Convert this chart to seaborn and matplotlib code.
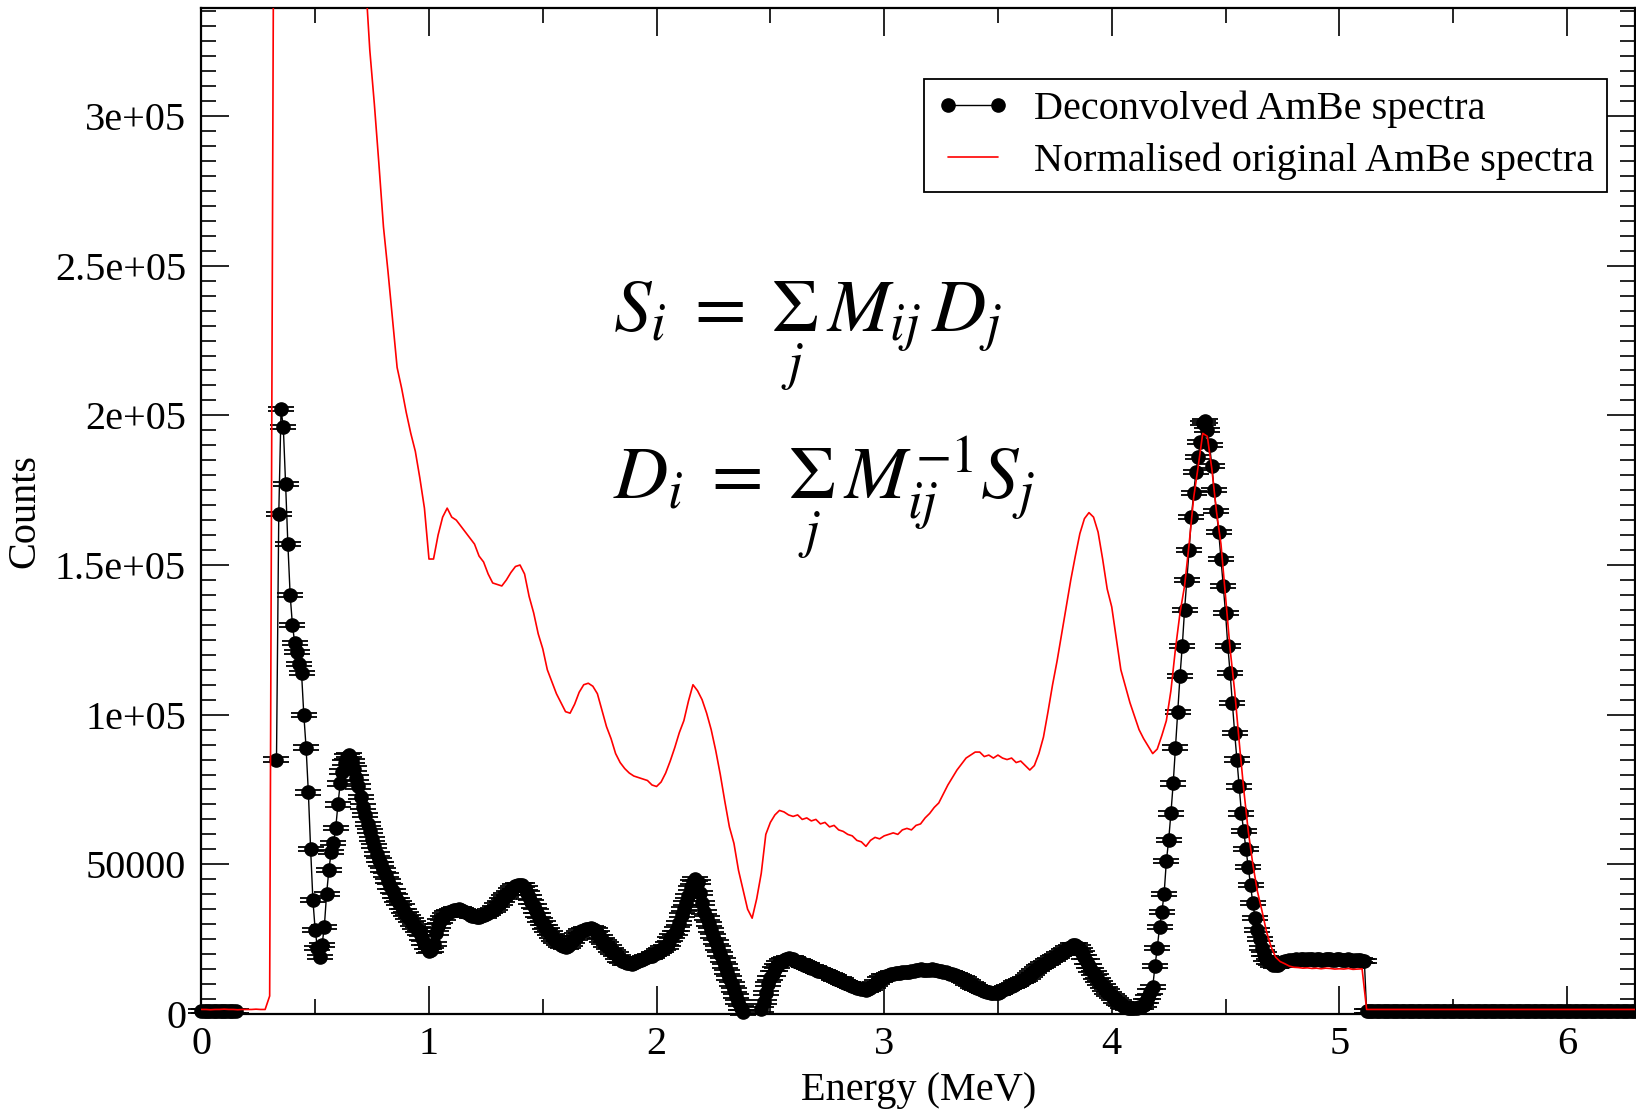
import numpy as np
import pandas as pd
import matplotlib
matplotlib.use("Agg")
import matplotlib.pyplot as plt
import seaborn as sns
from matplotlib.ticker import MultipleLocator, FixedLocator, FixedFormatter
from matplotlib.lines import Line2D

nan = np.nan

# ---------------- data ----------------
# Deconvolved AmBe spectrum, one value per 0.01 MeV bin starting at 0.00 MeV
deconvolved_counts = [
    1000, 1000, 1000, 1000, 1000, 1000, 1000, 1000, 1000, 1000,          # 0.00
    1000, 1000, 1000, 1000, 1000, 1000, nan, nan, nan, nan,              # 0.10
    nan, nan, nan, nan, nan, nan, nan, nan, nan, nan,                    # 0.20
    nan, nan, nan, 85000, 167000, 202000, 196000, 177000, 157000, 140000,  # 0.30
    130000, 124000, 121000, 117000, 114000, 100000, 89000, 74000, 55000, 38000,  # 0.40
    28000, 22000, 19000, 23000, 29000, 40000, 48000, 54000, 57000, 62000,  # 0.50
    70000, 77000, 81000, 84000, 86000, 86500, 84500, 82000, 79000, 76000,  # 0.60
    72500, 69300, 66500, 63500, 61000, 58500, 56000, 53500, 51500, 50000,  # 0.70
    48000, 46500, 44500, 42600, 41000, 39500, 38000, 37000, 35900, 34500,  # 0.80
    33500, 32500, 31300, 30200, 29200, 28200, 27000, 25500, 23600, 22300,  # 0.90
    21000, 21500, 23500, 27000, 29500, 31000, 32000, 33100, 33700, 34200,  # 1.00
    34500, 34700, 34900, 35000, 34800, 34500, 34000, 33600, 33200, 32800,  # 1.10
    32600, 32500, 32500, 32600, 32900, 33300, 33800, 34300, 34800, 35500,  # 1.20
    36300, 37200, 38200, 39000, 39800, 40500, 41300, 42000, 42600, 43000,  # 1.30
    43200, 43000, 42000, 40500, 39000, 37500, 36000, 34500, 33000, 31500,  # 1.40
    30300, 29000, 28000, 27000, 26000, 25200, 24500, 23800, 23200, 22700,  # 1.50
    22500, 22700, 23300, 24300, 25300, 26200, 27000, 27600, 28000, 28300,  # 1.60
    28500, 28600, 28500, 28000, 27000, 25800, 24800, 24000, 23200, 22300,  # 1.70
    21500, 20700, 20000, 19000, 18200, 17600, 17200, 17000, 16900, 16800,  # 1.80
    17000, 17400, 17800, 18000, 18300, 18600, 18900, 19200, 19500, 20000,  # 1.90
    20500, 21000, 21500, 22000, 22500, 23500, 25000, 26000, 27000, 28500,  # 2.00
    30500, 33000, 35000, 37000, 39500, 42000, 44000, 45000, 44000, 40500,  # 2.10
    37000, 34000, 32000, 30000, 28000, 26000, 24000, 22000, 20000, 18000,  # 2.20
    16000, 14000, 12000, 10000, 8000, 6000, 4000, 2000, 500, -2000,       # 2.30
    -5000, -7000, -7000, -6000, -3000, -500, 1500, 4000, 7000, 10000,     # 2.40
    12000, 13500, 15000, 16000, 17000, 17500, 18000, 18300, 18600, 18500,  # 2.50
    18200, 17800, 17500, 17200, 16900, 16500, 16200, 15800, 15500, 15200,  # 2.60
    14800, 14500, 14200, 13900, 13600, 13300, 13000, 12600, 12200, 11800,  # 2.70
    11500, 11200, 10800, 10400, 10000, 9700, 9400, 9100, 8800, 8600,      # 2.80
    8400, 8200, 8100, 8300, 8700, 9300, 10000, 10800, 11500, 12000,       # 2.90
    12500, 12800, 13100, 13300, 13500, 13600, 13700, 13800, 13900, 14000,  # 3.00
    14100, 14100, 14300, 14500, 14600, 14800, 14900, 14800, 14700, 14700,  # 3.10
    14800, 14900, 14800, 14600, 14400, 14200, 14100, 13900, 13700, 13500,  # 3.20
    13200, 12900, 12600, 12300, 11900, 11500, 11000, 10500, 10000, 9500,   # 3.30
    9100, 8700, 8300, 8000, 7700, 7500, 7300, 7100, 7000, 6900,            # 3.40
    7000, 7400, 7900, 8400, 8800, 9100, 9400, 9800, 10200, 10600,          # 3.50
    11000, 11400, 11700, 12300, 13000, 13700, 14400, 15000, 15600, 16000,  # 3.60
    16500, 17000, 17500, 18000, 18500, 19000, 19500, 20000, 20500, 21000,  # 3.70
    21500, 22000, 22500, 23000, 23000, 22500, 21500, 20500, 19000, 17500,  # 3.80
    16000, 14800, 13600, 12500, 11400, 10300, 9300, 8400, 7500, 6700,      # 3.90
    5900, 5200, 4500, 3800, 3200, 2700, 2300, 2000, 1900, 1900,            # 4.00
    2000, 2100, 2200, 2400, 3000, 4200, 5800, 7500, 9000, 16000,           # 4.10
    22000, 29000, 34000, 40000, 51000, 58000, 67000, 77000, 89000, 101000,  # 4.20
    113000, 123000, 135000, 145000, 155000, 166000, 174000, 181000, 186000, 191000,  # 4.30
    197500, 198000, 195000, 190000, 183000, 175000, 168000, 161000, 152000, 143000,  # 4.40
    134000, 123000, 114000, 104000, 94000, 85000, 76000, 67000, 61000, 55000,  # 4.50
    49000, 43000, 37000, 32000, 28000, 25000, 22000, 20000, 18500, 17500,  # 4.60
    17000, 16500, 16200, 16500, 17000, 17300, 17600, 17800, 18000, 17900,  # 4.70
    18000, 18200, 18100, 18300, 18200, 18000, 18200, 18400, 18300, 18100,  # 4.80
    18200, 18300, 18100, 18000, 18200, 18400, 18200, 18000, 18100, 18300,  # 4.90
    18200, 18000, 17900, 18100, 18200, 18000, 17800, 18000, 18100, 17900,  # 5.00
    17800, 17600, 1000, 1000, 1000, 1000, 1000, 1000, 1000, 1000,         # 5.10
    1000, 1000, 1000, 1000, 1000, 1000, 1000, 1000, 1000, 1000,           # 5.20
    1000, 1000, 1000, 1000, 1000, 1000, 1000, 1000, 1000, 1000,           # 5.30
    1000, 1000, 1000, 1000, 1000, 1000, 1000, 1000, 1000, 1000,           # 5.40
    1000, 1000, 1000, 1000, 1000, 1000, 1000, 1000, 1000, 1000,           # 5.50
    1000, 1000, 1000, 1000, 1000, 1000, 1000, 1000, 1000, 1000,           # 5.60
    1000, 1000, 1000, 1000, 1000, 1000, 1000, 1000, 1000, 1000,           # 5.70
    1000, 1000, 1000, 1000, 1000, 1000, 1000, 1000, 1000, 1000,           # 5.80
    1000, 1000, 1000, 1000, 1000, 1000, 1000, 1000, 1000, 1000,           # 5.90
    1000, 1000, 1000, 1000, 1000, 1000, 1000, 1000, 1000, 1000,           # 6.00
    1000, 1000, 1000, 1000, 1000, 1000, 1000, 1000, 1000, 1000,           # 6.10
    1000, 1000, 1000, 1000, 1000, 1000, 1000, 1000, 1000, 1000,           # 6.20
    1000,                                                                  # 6.30
]
deconvolved_step = 0.01
deconvolved_error = 700          # symmetric counting error on every bin

# Normalised original AmBe spectrum, one value per 0.02 MeV starting at 0.00 MeV
original_counts = [
    1500, 1500, 1400, 1500, 1500, 1600, 1500, 1500, 1400, 1500,            # 0.00
    1500, 1500, 1600, 1500, 1500, 6000, 420000, 700000, 720000, 690000,    # 0.20
    660000, 630000, 600000, 580000, 560000, 540000, 520000, 500000, 480000, 460000,  # 0.40
    440000, 420000, 405000, 390000, 375000, 362000, 347000, 322000, 304000, 284000,  # 0.60
    263000, 248000, 232000, 216000, 209000, 201000, 194000, 188000, 179000, 169000,  # 0.80
    152000, 152000, 160000, 166000, 169000, 166000, 165000, 163000, 161000, 159000,  # 1.00
    157000, 153000, 151000, 147000, 144000, 143500, 143000, 145000, 147500, 149500,  # 1.20
    150000, 147000, 139500, 134000, 127000, 122000, 115000, 111000, 107000, 104000,  # 1.40
    101000, 100500, 103500, 107500, 110000, 110500, 109500, 107000, 101500, 96000,   # 1.60
    92000, 87000, 84000, 82000, 80500, 79500, 79000, 78500, 78000, 76500,            # 1.80
    76000, 77500, 80500, 84500, 89000, 94000, 98000, 104500, 110000, 108000,         # 2.00
    105000, 100500, 95000, 88000, 80000, 71000, 62500, 57000, 48000, 41500,          # 2.20
    35000, 32000, 38500, 47000, 60000, 64000, 66500, 68000, 67500, 66500,            # 2.40
    66000, 66500, 65000, 65500, 64500, 65000, 63500, 64000, 62500, 63000,            # 2.60
    61500, 61000, 60000, 59500, 58000, 57500, 56000, 58000, 59000, 58500,            # 2.80
    59500, 60000, 60500, 60000, 61500, 62000, 61500, 63000, 63500, 65500,            # 3.00
    67000, 69000, 70500, 73500, 76500, 79000, 81500, 83500, 85500, 86500,            # 3.20
    87500, 87500, 86000, 86500, 85500, 86500, 85500, 85000, 85500, 84000,            # 3.40
    84500, 83000, 81500, 83000, 87000, 92500, 101000, 110000, 118000, 127000,        # 3.60
    136000, 145000, 153000, 160500, 165500, 167500, 166000, 161000, 152000, 142000,  # 3.80
    136000, 125500, 115000, 109500, 104000, 99500, 95000, 92000, 89500, 87000,       # 4.00
    88500, 93000, 98000, 108000, 122000, 134000, 143000, 157000, 172500, 183000,     # 4.20
    194000, 193000, 182000, 168000, 157000, 139500, 122000, 108000, 91000, 75000,    # 4.40
    61000, 50000, 41000, 34500, 27500, 22500, 19000, 17500, 16800, 16000,            # 4.60
    15600, 15500, 15300, 15400, 15200, 15300, 15100, 15300, 15200, 15000,            # 4.80
    15100, 15000, 15200, 14900, 15000, 15100, 1500, 1500, 1500, 1500,                # 5.00
    1500, 1500, 1500, 1500, 1500, 1500, 1500, 1500, 1500, 1500,                      # 5.20
    1500, 1500, 1500, 1500, 1500, 1500, 1500, 1500, 1500, 1500,                      # 5.40
    1500, 1500, 1500, 1500, 1500, 1500, 1500, 1500, 1500, 1500,                      # 5.60
    1500, 1500, 1500, 1500, 1500, 1500, 1500, 1500, 1500, 1500,                      # 5.80
    1500, 1500, 1500, 1500, 1500, 1500, 1500, 1500, 1500, 1500,                      # 6.00
    1500, 1500, 1500, 1500, 1500, 1500,                                              # 6.20
]
original_step = 0.02

x_ticks = [0, 1, 2, 3, 4, 5, 6]
y_ticks = [0, 50000, 100000, 150000, 200000, 250000, 300000]
y_tick_labels = ["0", "50000", "1e+05", "1.5e+05", "2e+05", "2.5e+05", "3e+05"]
legend_labels = ["Deconvolved AmBe spectra", "Normalised original AmBe spectra"]
equation_1 = r"$S_i\;=\;\underset{j}{\Sigma}\,M_{ij}\,D_j$"
equation_2 = r"$D_i\;=\;\underset{j}{\Sigma}\,M_{ij}^{-1}S_j$"

# ---------------- derived tables ----------------
dec = np.array(deconvolved_counts, dtype=float)
energy_dec = np.round(np.arange(len(dec)) * deconvolved_step, 2)
dec_visible = np.where(dec >= 0, dec, np.nan)   # points below the axis are not drawn

df_orig = pd.DataFrame({
    "Energy": np.round(np.arange(len(original_counts)) * original_step, 2),
    "Counts": np.array(original_counts, dtype=float),
})

# ---------------- style ----------------
sns.set_theme(style="ticks")
plt.rcParams["font.family"] = ["Liberation Serif", "DejaVu Serif"]
plt.rcParams["mathtext.fontset"] = "stix"
plt.rcParams["text.color"] = "black"
plt.rcParams["axes.labelcolor"] = "black"

fig = plt.figure(figsize=(16.36, 11.09), dpi=100)
ax = fig.add_axes([0.1231, 0.0857, 0.8764, 0.9068])

# connecting line (clipped to the axes)
ax.plot(energy_dec, dec, color="black", lw=1.0, zorder=2)
# error bars and markers (drawn whole, like xmgrace symbols)
eb = ax.errorbar(energy_dec, dec_visible, yerr=deconvolved_error, fmt="none",
                 ecolor="black", elinewidth=1.1, capsize=9.7, capthick=1.3, zorder=3)
for cap in eb.lines[1]:
    cap.set_clip_on(False)
for coll in eb.lines[2]:
    coll.set_clip_on(False)
ax.plot(energy_dec, dec_visible, "o", color="black", ms=9.5, mec="black",
        clip_on=False, zorder=4)

# original spectrum
sns.lineplot(data=df_orig, x="Energy", y="Counts", color="red", lw=1.2,
             sort=False, estimator=None, ax=ax, zorder=5)

# ---------------- axes ----------------
ax.set_xlim(0, 6.3)
ax.set_ylim(0, 336000)
ax.xaxis.set_major_locator(FixedLocator(x_ticks))
ax.xaxis.set_minor_locator(MultipleLocator(0.5))
ax.yaxis.set_major_locator(FixedLocator(y_ticks))
ax.yaxis.set_major_formatter(FixedFormatter(y_tick_labels))
ax.yaxis.set_minor_locator(MultipleLocator(5000))
ax.tick_params(which="both", direction="in", top=True, right=True,
               color="black", width=1.2, labelsize=29, labelcolor="black")
ax.tick_params(which="major", length=20)
ax.tick_params(which="minor", length=10.5)
ax.tick_params(axis="y", pad=11)
ax.tick_params(axis="x", pad=9)
for sp in ax.spines.values():
    sp.set_color("black")
    sp.set_linewidth(1.6)
    sp.set_visible(True)

ax.set_xlabel("Energy (MeV)", fontsize=29, labelpad=6)
ax.set_ylabel("Counts", fontsize=29, labelpad=8)

# ---------------- legend ----------------
h_dec = Line2D([], [], color="black", lw=1.0, marker="o", ms=9.5)
h_orig = Line2D([], [], color="red", lw=1.2)
leg = ax.legend([h_dec, h_orig], legend_labels, loc="upper right",
                bbox_to_anchor=(0.980, 0.930), borderaxespad=0, fontsize=29,
                frameon=True, fancybox=False, framealpha=1, edgecolor="black",
                numpoints=2, handlelength=1.85, handletextpad=0.6,
                borderpad=0.3, labelspacing=0.36)
leg.get_frame().set_linewidth(1.3)

# ---------------- equations ----------------
ax.text(0.2873, 0.678, equation_1, transform=ax.transAxes, fontsize=54,
        ha="left", va="baseline")
ax.text(0.2873, 0.512, equation_2, transform=ax.transAxes, fontsize=54,
        ha="left", va="baseline")

fig.savefig("out.png", dpi=100)
